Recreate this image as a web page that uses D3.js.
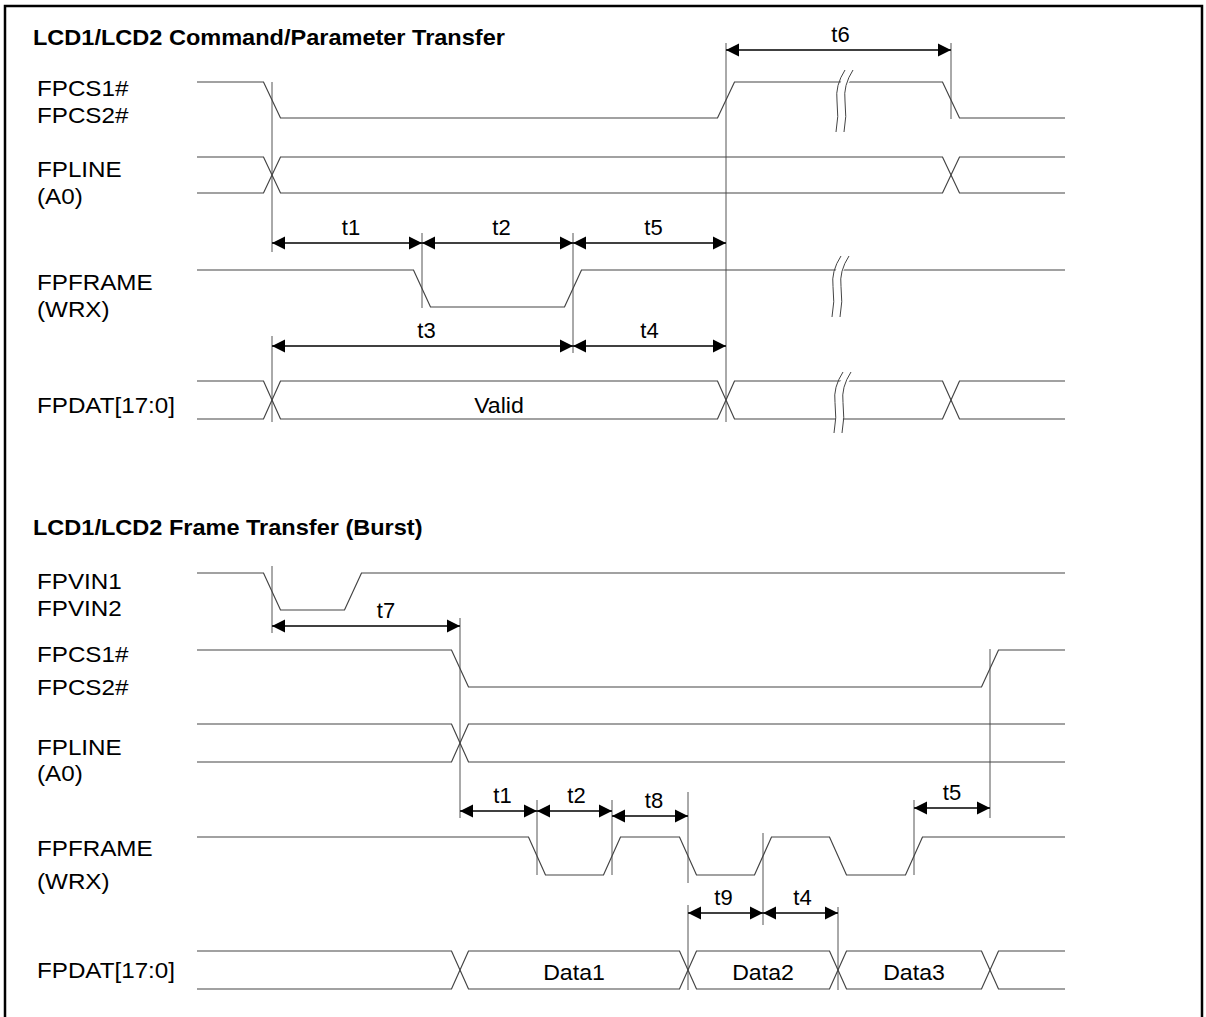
<!DOCTYPE html>
<meta charset="utf-8">
<style>
body { margin: 0; background: #fff; }
svg { display: block; }
.lbl { font: 22px Arial, "Liberation Sans", sans-serif; fill: #000; }
.title { font: bold 22px Arial, "Liberation Sans", sans-serif; fill: #000; }
.sig { fill: none; stroke: #444; stroke-width: 1.2px; }
.mark { stroke: #555; stroke-width: 1px; }
.arrow { stroke: #000; stroke-width: 1.3px; }
.head { fill: #000; }
.brk { fill: none; stroke: #444; stroke-width: 1px; }
.brkfill { fill: none; stroke: #fff; stroke-width: 7px; }
</style>
<svg width="1206" height="1017"></svg>
<script src="https://d3js.org/d3.v7.min.js"></script>
<script>
// time runs 0..868 across the waveform area, y in diagram units
var titles = [
  {text: "LCD1/LCD2 Command/Parameter Transfer", y: 45},
  {text: "LCD1/LCD2 Frame Transfer (Burst)", y: 535}
];

var labels = [
  ["FPCS1#", 96], ["FPCS2#", 123], ["FPLINE", 177], ["(A0)", 204],
  ["FPFRAME", 290], ["(WRX)", 317], ["FPDAT[17:0]", 413],
  ["FPVIN1", 589], ["FPVIN2", 616], ["FPCS1#", 662], ["FPCS2#", 695],
  ["FPLINE", 755], ["(A0)", 781], ["FPFRAME", 856], ["(WRX)", 889],
  ["FPDAT[17:0]", 978]
];

// single-ended signals: start level high, toggle at each edge
var digital = [
  {hi: 82,  lo: 118, edges: [75, 529, 754]},          // FPCS top
  {hi: 270, lo: 307, edges: [225, 376]},              // FPFRAME top
  {hi: 573, lo: 610, edges: [75, 156]},               // FPVIN
  {hi: 650, lo: 687, edges: [263, 793]},              // FPCS bottom
  {hi: 837, lo: 875, edges: [340, 415, 491, 566, 641, 717]} // FPFRAME bottom
];

// bus signals with crossing points
var buses = [
  {hi: 157, lo: 193, cross: [75, 754]},               // FPLINE top
  {hi: 381, lo: 419, cross: [75, 529, 754]},          // FPDAT top
  {hi: 724, lo: 762, cross: [263]},                   // FPLINE bottom
  {hi: 951, lo: 989, cross: [263, 491, 641, 793]}     // FPDAT bottom
];

var busText = [
  {text: "Valid", at: 302, y: 413},
  {text: "Data1", at: 377, y: 980},
  {text: "Data2", at: 566, y: 980},
  {text: "Data3", at: 717, y: 980}
];

var breaks = [
  {at: 645, top: 70,  bottom: 132},
  {at: 641, top: 256, bottom: 317},
  {at: 643, top: 372, bottom: 433}
];

var markers = [
  [75, 82, 252], [75, 336, 422], [225, 233, 308], [376, 233, 353],
  [529, 43, 422], [754, 43, 119],
  [75, 566, 633], [263, 618, 818], [340, 800, 875], [415, 800, 875],
  [491, 792, 883], [491, 905, 990], [566, 833, 925], [641, 907, 990],
  [717, 800, 875], [793, 649, 818]
];

var arrows = [
  {from: 75,  to: 225, y: 243, label: "t1", dx: 4},
  {from: 225, to: 376, y: 243, label: "t2", dx: 4},
  {from: 376, to: 529, y: 243, label: "t5", dx: 4},
  {from: 529, to: 754, y: 50,  label: "t6", dx: 2},
  {from: 75,  to: 376, y: 346, label: "t3", dx: 4},
  {from: 376, to: 529, y: 346, label: "t4", dx: 0},
  {from: 75,  to: 263, y: 626, label: "t7", dx: 20},
  {from: 263, to: 340, y: 811, label: "t1", dx: 4},
  {from: 340, to: 415, y: 811, label: "t2", dx: 2},
  {from: 415, to: 491, y: 816, label: "t8", dx: 4},
  {from: 717, to: 793, y: 808, label: "t5", dx: 0},
  {from: 491, to: 566, y: 913, label: "t9", dx: -2},
  {from: 566, to: 641, y: 913, label: "t4", dx: 2}
];

var svg = d3.select("svg");
var x = d3.scaleLinear().domain([0, 868]).range([197, 1065]);
var y = d3.scaleLinear().domain([0, 1017]).range([0, 1017]);
var hw = 8.5, sx = 1.1;
var line = d3.line().x(function(d) { return x(d[0]); }).y(function(d) { return y(d[1]); });

function place(px, py, s) {
  return "translate(" + px + "," + py + ") scale(" + s + ",1)";
}

// frame
svg.append("path")
  .attr("d", "M5,1017 V6 H1202 V1017")
  .attr("fill", "none").attr("stroke", "#000").attr("stroke-width", 2.5);

svg.selectAll(".title").data(titles).enter().append("text")
  .attr("class", "title")
  .attr("transform", function(d) { return place(33, y(d.y), 1.07); })
  .text(function(d) { return d.text; });

svg.selectAll(".lbl.name").data(labels).enter().append("text")
  .attr("class", "lbl name")
  .attr("transform", function(d) { return place(37, y(d[1]), sx); })
  .text(function(d) { return d[0]; });

// markers
svg.selectAll(".mark").data(markers).enter().append("line")
  .attr("class", "mark")
  .attr("x1", function(d) { return x(d[0]); }).attr("x2", function(d) { return x(d[0]); })
  .attr("y1", function(d) { return y(d[1]); }).attr("y2", function(d) { return y(d[2]); });

// digital waveforms
svg.selectAll(".dig").data(digital).enter().append("path")
  .attr("class", "sig dig")
  .attr("d", function(s) {
    var lvl = s.hi, pts = [[0, lvl]];
    s.edges.forEach(function(e) {
      pts.push([e - hw, lvl]);
      lvl = lvl === s.hi ? s.lo : s.hi;
      pts.push([e + hw, lvl]);
    });
    pts.push([868, lvl]);
    return line(pts);
  });

// bus waveforms, two crossing polylines each
buses.forEach(function(b) {
  [[b.hi, b.lo], [b.lo, b.hi]].forEach(function(pair) {
    var lvl = pair[0], pts = [[0, lvl]];
    b.cross.forEach(function(c) {
      pts.push([c - hw, lvl]);
      lvl = lvl === b.hi ? b.lo : b.hi;
      pts.push([c + hw, lvl]);
    });
    pts.push([868, lvl]);
    svg.append("path").attr("class", "sig bus").attr("d", line(pts));
  });
});

svg.selectAll(".btxt").data(busText).enter().append("text")
  .attr("class", "lbl btxt").attr("text-anchor", "middle")
  .attr("transform", function(d) { return place(x(d.at), y(d.y), 1.05); })
  .text(function(d) { return d.text; });

// break symbols
function brkPath(cx, t, b) {
  var h = b - t;
  return "M" + (cx + 7) + "," + t +
    " Q" + (cx - 3) + "," + (t + h * 0.25) + " " + (cx - 1) + "," + (t + h * 0.5) +
    " T" + (cx - 2) + "," + b;
}
breaks.forEach(function(k) {
  var cx = x(k.at), t = y(k.top), b = y(k.bottom);
  svg.append("path").attr("class", "brkfill").attr("d", brkPath(cx, t + 6, b - 6));
  svg.append("path").attr("class", "brk").attr("d", brkPath(cx - 4, t, b));
  svg.append("path").attr("class", "brk").attr("d", brkPath(cx + 4, t, b));
});

// dimension arrows
var hl = 13, hh = 6.5;
var ag = svg.selectAll(".dim").data(arrows).enter().append("g").attr("class", "dim");
ag.append("line").attr("class", "arrow")
  .attr("x1", function(d) { return x(d.from); }).attr("x2", function(d) { return x(d.to); })
  .attr("y1", function(d) { return y(d.y); }).attr("y2", function(d) { return y(d.y); });
ag.append("path").attr("class", "head")
  .attr("d", function(d) {
    var a = x(d.from), b = x(d.to), yy = y(d.y);
    return "M" + a + "," + yy + "L" + (a + hl) + "," + (yy - hh) + "L" + (a + hl) + "," + (yy + hh) + "Z" +
           "M" + b + "," + yy + "L" + (b - hl) + "," + (yy - hh) + "L" + (b - hl) + "," + (yy + hh) + "Z";
  });
ag.append("text").attr("class", "lbl").attr("text-anchor", "middle")
  .attr("transform", function(d) {
    return place((x(d.from) + x(d.to)) / 2 + d.dx, y(d.y) - 8, 1);
  })
  .text(function(d) { return d.label; });
</script>
